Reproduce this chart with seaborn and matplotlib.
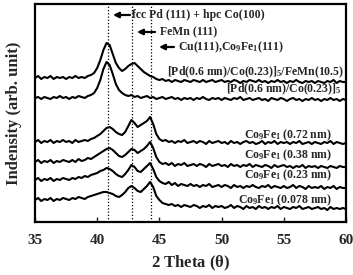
import numpy as np
import pandas as pd
import matplotlib
matplotlib.use("Agg")
import matplotlib.pyplot as plt
import seaborn as sns

# 2 theta grid (deg), one reading every 0.25 deg
two_theta = np.arange(35.0, 60.001, 0.25)

# intensities (arb. units, curves already offset)
femn_pdco = [136, 138, 135, 137, 136, 138, 135, 137, 136, 137,
             135, 137, 136, 138, 136, 137, 136, 138, 139, 141,
             146, 154, 164, 171, 169, 160, 151, 146, 143, 145,
             148, 150, 151, 148, 145, 142, 140, 138, 137, 135,
             134, 135, 133, 134, 132, 134, 133, 132, 134, 133,
             132, 134, 133, 132, 134, 132, 133, 134, 132, 133,
             134, 132, 133, 132, 134, 133, 131, 133, 132, 134,
             133, 132, 134, 132, 133, 131, 133, 132, 134, 132,
             133, 131, 133, 132, 134, 132, 131, 133, 132, 133,
             131, 133, 132, 131, 133, 132, 134, 131, 133, 132,
             132]
pdco = [116, 117, 115, 117, 116, 115, 117, 116, 118, 116,
        117, 115, 117, 116, 118, 117, 116, 118, 119, 121,
        126, 134, 145, 152, 149, 140, 130, 124, 121, 119,
        118, 119, 117, 118, 116, 117, 118, 116, 117, 115,
        116, 117, 115, 116, 117, 115, 116, 114, 116, 115,
        116, 114, 116, 115, 117, 115, 114, 116, 115, 116,
        114, 116, 115, 114, 116, 115, 117, 114, 115, 116,
        114, 115, 116, 114, 115, 113, 116, 115, 114, 116,
        115, 113, 115, 116, 114, 115, 113, 115, 114, 116,
        114, 115, 113, 115, 114, 116, 114, 115, 113, 115,
        114]
cofe_072 = [72, 74, 71, 73, 72, 74, 71, 73, 72, 74,
            72, 73, 71, 74, 72, 73, 74, 73, 75, 76,
            78, 80, 83, 86, 87, 85, 82, 80, 79, 82,
            88, 94, 91, 87, 89, 91, 93, 97, 90, 80,
            75, 73, 74, 72, 73, 71, 73, 72, 74, 71,
            72, 73, 71, 73, 72, 70, 73, 71, 72, 73,
            71, 72, 70, 73, 71, 72, 70, 72, 73, 71,
            72, 70, 71, 73, 70, 72, 71, 73, 70, 72,
            71, 72, 70, 72, 71, 73, 70, 71, 72, 70,
            72, 71, 70, 72, 71, 73, 70, 72, 71, 70,
            71]
cofe_038 = [52, 54, 51, 53, 52, 54, 51, 53, 52, 54,
            53, 52, 54, 52, 55, 53, 54, 56, 55, 57,
            59, 61, 63, 65, 66, 64, 61, 58, 57, 59,
            62, 65, 64, 61, 63, 65, 68, 72, 66, 57,
            52, 50, 51, 49, 51, 48, 50, 49, 51, 48,
            49, 50, 48, 50, 49, 47, 50, 48, 49, 50,
            48, 49, 47, 50, 48, 49, 47, 49, 48, 50,
            47, 49, 48, 47, 49, 48, 46, 49, 47, 48,
            49, 47, 48, 46, 48, 47, 49, 46, 48, 47,
            48, 46, 48, 47, 46, 48, 47, 46, 48, 47,
            47]
cofe_023 = [34, 36, 33, 35, 34, 36, 33, 35, 34, 36,
            35, 34, 36, 35, 37, 36, 38, 37, 39, 40,
            41, 43, 44, 46, 45, 43, 40, 38, 37, 40,
            44, 49, 47, 43, 42, 45, 48, 51, 45, 37,
            33, 31, 30, 32, 29, 31, 28, 30, 29, 28,
            30, 28, 29, 27, 29, 28, 30, 27, 28, 29,
            27, 29, 28, 26, 29, 27, 28, 26, 28, 27,
            29, 27, 26, 28, 27, 29, 26, 28, 27, 26,
            28, 26, 27, 29, 26, 28, 27, 25, 28, 26,
            27, 26, 28, 25, 27, 26, 28, 25, 27, 26,
            26]
cofe_0078 = [14, 16, 13, 15, 14, 16, 13, 15, 14, 16,
             15, 14, 16, 15, 17, 16, 15, 17, 18, 19,
             20, 21, 22, 22, 21, 20, 18, 17, 19, 22,
             26, 28, 26, 23, 22, 25, 28, 32, 27, 18,
             14, 11, 10, 9, 10, 8, 9, 7, 9, 8,
             7, 9, 8, 6, 8, 7, 9, 6, 8, 7,
             8, 6, 7, 9, 6, 8, 7, 5, 8, 6,
             7, 5, 8, 6, 7, 5, 7, 6, 8, 5,
             7, 6, 5, 7, 6, 8, 5, 6, 7, 5,
             6, 7, 5, 6, 4, 7, 5, 6, 5, 6,
             5]

curve_names = ["femn", "pdco", "0.72", "0.38", "0.23", "0.078"]
curve_labels = [r"[Pd(0.6 mn)/Co(0.23)]$_\mathrm{5}$/FeMn(10.5)",
                r"[Pd(0.6 nm)/Co(0.23)]$_\mathrm{5}$",
                r"Co$_\mathrm{9}$Fe$_\mathrm{1}$ (0.72 nm)",
                r"Co$_\mathrm{9}$Fe$_\mathrm{1}$ (0.38 nm)",
                r"Co$_\mathrm{9}$Fe$_\mathrm{1}$ (0.23 nm)",
                r"Co$_\mathrm{9}$Fe$_\mathrm{1}$ (0.078 nm)"]

# reference peak positions (deg)
peak_pos = [40.89, 42.77, 44.30]
peak_names = ["fcc Pd (111) + hpc Co(100)", "FeMn (111)",
              r"Cu(111),Co$_\mathrm{9}$Fe$_\mathrm{1}$(111)"]

df = pd.DataFrame({
    "two_theta": np.tile(two_theta, 6),
    "intensity": femn_pdco + pdco + cofe_072 + cofe_038 + cofe_023 + cofe_0078,
    "sample": np.repeat(curve_names, len(two_theta)),
})

sns.set_theme(style="white")
plt.rcParams['font.family'] = ['Liberation Serif', 'DejaVu Serif']
plt.rcParams['font.weight'] = 'bold'
plt.rcParams['mathtext.fontset'] = 'custom'
plt.rcParams['mathtext.rm'] = 'Liberation Serif:bold'
plt.rcParams['mathtext.it'] = 'Liberation Serif:bold'
plt.rcParams['mathtext.bf'] = 'Liberation Serif:bold'

fig = plt.figure(figsize=(3.53, 2.75), dpi=100)
ax = fig.add_axes([35 / 353, 1 - 221.7 / 275, 311 / 353, 217.7 / 275])

ymin, ymax = -7.7, 210
for x0 in peak_pos:
    ax.vlines(x0, ymin, ymax, colors='black', linestyles=(0, (1, 1.6)), lw=0.9)

sns.lineplot(data=df, x="two_theta", y="intensity", units="sample",
             estimator=None, color='black', lw=1.5, ax=ax, legend=False)

# curve labels
label_x = [59.85, 59.65, 58.85, 58.85, 58.85, 58.85]
label_y = [142, 125, 79, 59, 39, 14]
for lx, ly, txt in zip(label_x, label_y, curve_labels):
    ax.text(lx, ly, txt, ha='right', va='center', fontsize=8.5, fontweight='bold')

# peak annotations with arrows
arrow_head = [41.27, 43.20, 44.97]
arrow_tail = [42.64, 44.65, 46.17]
text_x = [42.80, 45.05, 46.50]
text_y = [199, 182, 167]
for h, t, tx, ty, txt in zip(arrow_head, arrow_tail, text_x, text_y, peak_names):
    ax.annotate('', xy=(h, ty), xytext=(t, ty),
                arrowprops=dict(arrowstyle='-|>', color='black', lw=1.6,
                                mutation_scale=8, shrinkA=0, shrinkB=0))
    ax.text(tx, ty, txt, ha='left', va='center', fontsize=8.5, fontweight='bold')

ax.set_xlim(35, 60)
ax.set_ylim(ymin, ymax)
ax.set_xticks([35, 40, 45, 50, 55, 60])
ax.set_yticks([])
ax.tick_params(axis='x', direction='in', length=3.5, width=1.0, pad=8.5,
               labelsize=11, bottom=True, top=False)
for lab in ax.get_xticklabels():
    lab.set_fontweight('bold')
for sp in ax.spines.values():
    sp.set_linewidth(1.6)
    sp.set_color('black')

ax.set_xlabel(r"2 Theta ($\mathrm{\theta}$)", fontsize=12, fontweight='bold', labelpad=5)
ax.set_ylabel("Indensity (arb. unit)", fontsize=12, fontweight='bold', labelpad=9)

fig.savefig("out.png", dpi=100)
